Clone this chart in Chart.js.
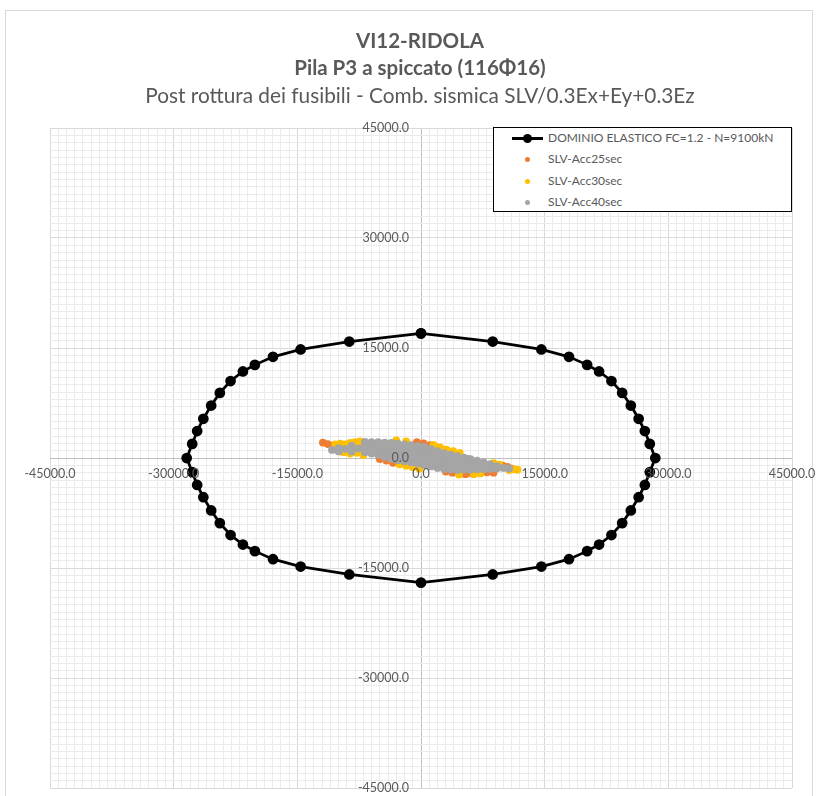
<!DOCTYPE html>
<html>
<head>
<meta charset="utf-8">
<script src="https://cdn.jsdelivr.net/npm/chart.js@4.4.1/dist/chart.umd.min.js"></script>
<style>
    body { margin: 0; background: #fff; }
    #wrap { position: relative; width: 817px; height: 796px; overflow: hidden; font-family: Lato, "Open Sans", sans-serif; color: #595959; }
    #frame { position: absolute; left: 5px; top: 10px; width: 806px; height: 800px; border: 1px solid #d9d9d9; }
    #chart { position: absolute; left: 0; top: 0; }
    .title { position: absolute; left: 0; width: 840px; text-align: center; font-size: 20.8px; line-height: 24px; white-space: nowrap; }
    .bold { font-weight: bold; font-size: 20.5px; }
    #legend { position: absolute; left: 493px; top: 127px; width: 297px; height: 83px; border: 1px solid #000; background: #fff; }
    .row { position: absolute; left: 0; height: 20px; width: 297px; font-size: 12px; line-height: 20px; }
    .row span.txt { position: absolute; left: 54px; top: 0; white-space: nowrap; }
    .ln { position: absolute; left: 18px; top: 9px; width: 31px; height: 3px; background: #000; }
    .dot { position: absolute; border-radius: 50%; }
</style>
</head>
<body>
<div id="wrap">
    <div id="frame"></div>
    <canvas id="chart" width="817" height="796"></canvas>
    <div class="title bold" style="top:28px">VI12-RIDOLA</div>
    <div class="title bold" style="top:55px">Pila P3 a spiccato (116Φ16)</div>
    <div class="title" style="top:83px">Post rottura dei fusibili - Comb. sismica SLV/0.3Ex+Ey+0.3Ez</div>
    <div id="legend"></div>
</div>
<script>
// major axis values (labels every 15000, minor grid every 1000)
const majorTicks = [-45000, -30000, -15000, 0, 15000, 30000, 45000];

// elastic domain FC=1.2, N=9100kN
const domainX = [0, 8700, 14600, 17950, 20150, 21600, 23100, 24400, 25450, 26400, 27150, 27750, 28420,
    27750, 27150, 26400, 25450, 24400, 23100, 21600, 20150, 17950, 14600, 8700, 0,
    -8700, -14600, -17950, -20150, -21600, -23100, -24400, -25450, -26400, -27150, -27750, -28420,
    -27750, -27150, -26400, -25450, -24400, -23100, -21600, -20150, -17950, -14600, -8700, 0];
const domainY = [17000, 15880, 14800, 13800, 12700, 11800, 10500, 8880, 7150, 5350, 3680, 1920, 0,
    -1920, -3680, -5350, -7150, -8880, -10500, -11800, -12700, -13800, -14800, -15880, -17000,
    -15880, -14800, -13800, -12700, -11800, -10500, -8880, -7150, -5350, -3680, -1920, 0,
    1920, 3680, 5350, 7150, 8880, 10500, 11800, 12700, 13800, 14800, 15880, 17000];

// SLV-Acc25sec
const acc25 = [
    [-11900, 2100], [-11300, 1900], [-10700, 1700], [-10200, 1450], [-10600, 1300], [-9700, 1150],
    [-5000, -150], [-4200, -350], [-3400, -650],
    [-500, 2150], [300, 2000], [1100, 1750], [1900, 1450], [2700, 1150],
    [3000, -1850], [3800, -2000], [5400, -2200], [6200, -2100], [8000, -1950], [8800, -2000],
    [9900, -1050], [10500, -1200], [11000, -1450],
    [-6000, 1200], [-2000, 800], [0, 200], [2000, -500], [4000, -1000], [6000, -1200], [8000, -1300]
];

// SLV-Acc30sec
const acc30 = [
    [-10400, 1850], [-9800, 1950], [-9200, 1850], [-8600, 2050], [-8000, 2150], [-7400, 2250],
    [-9600, 1500], [-8800, 1400], [-8000, 1500], [-7400, 1700],
    [-9400, 800], [-8600, 600], [-7800, 700], [-7000, 400], [-8000, 1000], [-7200, 1000],
    [-3000, 2400], [-1800, 2250],
    [1500, 1800], [2300, 1450], [3100, 1150], [3900, 950], [4700, 700],
    [4600, -2250], [6400, -2200], [7200, -2100],
    [-2600, -850], [-1800, -1050], [-1000, -1250], [-200, -1450],
    [8800, -700], [9500, -900],
    [10700, -1650], [11300, -1550], [11700, -1600]
];

// SLV-Acc40sec
const acc40 = [
    [-10800, 1100], [-10000, 1350], [-10000, 900], [-9200, 1250], [-8400, 1700], [-8400, 900], [-7600, 1300],
    [-6800, 2200], [-6800, 1750], [-6800, 1250], [-6800, 800],
    [-6000, 2150], [-6000, 1650], [-6000, 1100], [-6000, 600],
    [-5200, 2150], [-5200, 1600], [-5200, 1000], [-5200, 450],
    [-4400, 2100], [-4400, 1600], [-4400, 1050], [-4400, 550], [-4400, 150],
    [-3600, 2050], [-3600, 1550], [-3600, 1000], [-3600, 450], [-3600, -100],
    [-2800, 1950], [-2800, 1400], [-2800, 800], [-2800, 200], [-2800, -300],
    [-2000, 1850], [-2000, 1300], [-2000, 700], [-2000, 100], [-2000, -450],
    [-1200, 1750], [-1200, 1200], [-1200, 600], [-1200, 0], [-1200, -600],
    [-400, 1650], [-400, 1100], [-400, 500], [-400, -100], [-400, -750],
    [400, 1500], [400, 950], [400, 350], [400, -300], [400, -950],
    [1200, 1250], [1200, 700], [1200, 100], [1200, -500], [1200, -1150],
    [2000, 950], [2000, 400], [2000, -200], [2000, -800], [2000, -1350],
    [2800, 650], [2800, 100], [2800, -500], [2800, -1050], [2800, -1500],
    [3600, 450], [3600, -100], [3600, -650], [3600, -1150], [3600, -1580],
    [4400, 250], [4400, -300], [4400, -850], [4400, -1350], [4400, -1620],
    [5200, 50], [5200, -450], [5200, -1000], [5200, -1600], [5700, -130],
    [6000, -150], [6000, -650], [6000, -1150], [6000, -1600],
    [6800, -350], [6800, -800], [6800, -1200], [6800, -1550],
    [7600, -600], [7600, -1100], [7600, -1530],
    [8400, -850], [8400, -1200], [8400, -1500],
    [9200, -1100], [9200, -1420],
    [10000, -1350], [10700, -1430]
];

const seriesNames = ['DOMINIO ELASTICO FC=1.2 - N=9100kN', 'SLV-Acc25sec', 'SLV-Acc30sec', 'SLV-Acc40sec'];
const seriesColors = ['#000000', '#ED7D31', '#FFC000', '#A5A5A5'];

const toPoints = pairs => pairs.map(p => ({ x: p[0], y: p[1] }));

// axis labels drawn along the crossing axes
const axisLabels = {
    id: 'axisLabels',
    afterDatasetsDraw(chart) {
        const { ctx, scales: { x, y } } = chart;
        const x0 = x.getPixelForValue(0);
        const y0 = y.getPixelForValue(0);
        ctx.save();
        ctx.font = '12.5px Lato, "Open Sans", sans-serif';
        ctx.fillStyle = '#595959';
        ctx.textBaseline = 'middle';
        ctx.textAlign = 'center';
        majorTicks.forEach(v => ctx.fillText(v.toFixed(1), x.getPixelForValue(v), y0 + 16));
        ctx.textAlign = 'right';
        majorTicks.forEach(v => ctx.fillText(v.toFixed(1), x0 - 12, y.getPixelForValue(v)));
        ctx.restore();
    }
};

function gridColor(context) {
    const v = context.tick ? context.tick.value : 0;
    if (v === 0) return '#bfbfbf';
    if (v % 15000 === 0) return '#d9d9d9';
    return '#ebebeb';
}

new Chart(document.getElementById('chart'), {
    type: 'scatter',
    data: {
        datasets: [
            {
                label: seriesNames[0],
                data: domainX.map((v, i) => ({ x: v, y: domainY[i] })),
                showLine: true,
                borderColor: seriesColors[0],
                backgroundColor: seriesColors[0],
                borderWidth: 2.75,
                pointRadius: 4,
                tension: 0,
                order: 3
            },
            { label: seriesNames[1], data: toPoints(acc25), backgroundColor: seriesColors[1], borderWidth: 0, pointRadius: 3.9, order: 2 },
            { label: seriesNames[2], data: toPoints(acc30), backgroundColor: seriesColors[2], borderWidth: 0, pointRadius: 3.9, order: 1 },
            { label: seriesNames[3], data: toPoints(acc40), backgroundColor: seriesColors[3], borderWidth: 0, pointRadius: 3.9, order: 0 }
        ]
    },
    options: {
        responsive: false,
        animation: false,
        devicePixelRatio: 1,
        layout: { padding: { left: 50, top: 128, right: 25, bottom: 8 } },
        plugins: {
            legend: { display: false },
            title: { display: false },
            tooltip: { enabled: false }
        },
        scales: {
            x: {
                type: 'linear',
                min: -45000,
                max: 45000,
                ticks: { display: false, count: 91 },
                grid: { color: gridColor, drawTicks: false, lineWidth: 1 },
                border: { display: false }
            },
            y: {
                type: 'linear',
                min: -45000,
                max: 45000,
                ticks: { display: false, count: 91 },
                grid: { color: gridColor, drawTicks: false, lineWidth: 1 },
                border: { display: false }
            }
        }
    },
    plugins: [axisLabels]
});

// legend box
const legend = document.getElementById('legend');
seriesNames.forEach((name, i) => {
    const row = document.createElement('div');
    row.className = 'row';
    row.style.top = (i * 21.3) + 'px';
    if (i === 0) {
        row.innerHTML = '<div class="ln"></div><div class="dot" style="left:29px;top:6px;width:9px;height:9px;background:#000"></div>';
    } else {
        row.innerHTML = '<div class="dot" style="left:31px;top:8px;width:5px;height:5px;background:' + seriesColors[i] + '"></div>';
    }
    const txt = document.createElement('span');
    txt.className = 'txt';
    txt.textContent = name;
    row.appendChild(txt);
    legend.appendChild(row);
});
</script>
</body>
</html>
